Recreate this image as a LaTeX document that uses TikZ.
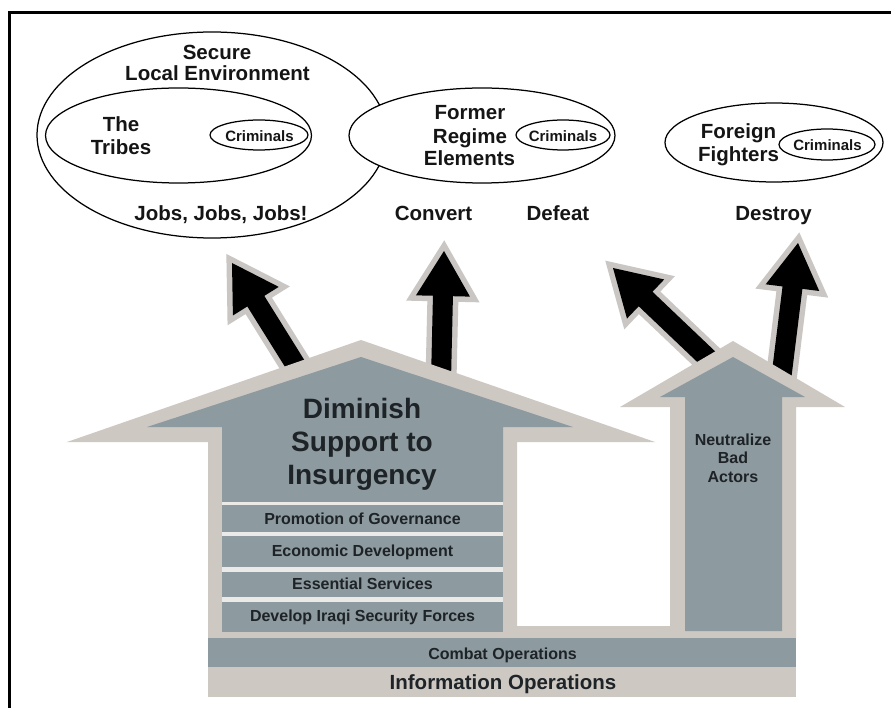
\documentclass[tikz,border=0pt]{standalone}
\usepackage{fontspec}
\setmainfont{Liberation Sans}
\usetikzlibrary{calc,shapes.geometric}
\definecolor{rim}{HTML}{CEC8C3}
\definecolor{slate}{HTML}{8D9A9F}
\definecolor{arrim}{HTML}{C9C6C4}
\definecolor{ink}{HTML}{151515}
\definecolor{dark}{HTML}{1D2327}
\definecolor{sepcol}{HTML}{ECEAE9}
\newcommand\fatarrow[2]{%
  \path[fatarr] (#2)
    -- ($(#2)!45pt!(#1)!27pt!90:(#2)$)
    -- ($(#2)!45pt!(#1)!10pt!90:(#2)$)
    -- ($(#1)!10pt!90:(#2)$)
    -- ($(#1)!10pt!-90:(#2)$)
    -- ($(#2)!45pt!(#1)!10pt!-90:(#2)$)
    -- ($(#2)!45pt!(#1)!27pt!-90:(#2)$)
    -- cycle;}
\begin{document}
\begin{tikzpicture}[x=1pt,y=-1pt,
  ring/.style={draw=black, ellipse, line width=1.25pt, inner sep=0pt},
  lbl/.style={font=\bfseries\fontsize{20.5}{23}\selectfont, text=ink, anchor=base, inner sep=0pt},
  crimtxt/.style={font=\bfseries\fontsize{15}{17}\selectfont, text=ink, anchor=base, inner sep=0pt},
  bigtxt/.style={font=\bfseries\fontsize{28}{32}\selectfont, text=dark, anchor=base, inner sep=0pt},
  midtxt/.style={font=\bfseries\fontsize{16}{19}\selectfont, text=dark, anchor=base, inner sep=0pt},
  fatarr/.style={preaction={draw=arrim, line width=11pt, line join=miter}, fill=black}]
\useasboundingbox (0,0) rectangle (891,708);
\fill[white] (0,0) rectangle (891,708);
\draw[line width=2.2pt] (9.5,708) -- (9.5,12.5) -- (891,12.5);

% ellipses
\node[ring, minimum width=350pt, minimum height=206pt] (sle) at (212,135) {};
\node[ring, minimum width=266pt, minimum height=95pt] (tribes) at (178.5,135.5) {};
\node[ring, minimum width=98pt, minimum height=30pt] (crimA) at (259,135) {};
\node[ring, fill=white, minimum width=266pt, minimum height=95pt] (fre) at (482,135.5) {};
\node[ring, minimum width=94pt, minimum height=30pt] (crimB) at (563,135) {};
\node[ring, minimum width=218pt, minimum height=79pt] (ff) at (774,142.5) {};
\node[ring, minimum width=96pt, minimum height=31pt] (crimC) at (827,144.5) {};

% ellipse texts
\node[lbl] (t1) at (217,59.3) {Secure};
\node[lbl] (t2) at (217.5,81) {Local Environment};
\node[lbl] (t3) at (121,131.7) {The};
\node[lbl] (t4) at (121,155) {Tribes};
\node[crimtxt] (c1) at (259.5,141.5) {Criminals};
\node[lbl] (t5) at (470,120) {Former};
\node[lbl] (t6) at (470,143.3) {Regime};
\node[lbl] (t7) at (469.5,165.7) {Elements};
\node[crimtxt] (c2) at (563,141.5) {Criminals};
\node[lbl] (t8) at (738.5,138.3) {Foreign};
\node[lbl] (t9) at (738.5,161.7) {Fighters};
\node[crimtxt] (c3) at (827.5,150.5) {Criminals};
\node[lbl] (jobs) at (221,220.7) {Jobs, Jobs, Jobs!};
\node[lbl] (conv) at (433.5,220.7) {Convert};
\node[lbl] (defe) at (558,220.7) {Defeat};
\node[lbl] (dest) at (773.5,220.7) {Destroy};

% arrows
\coordinate (a1tail) at (300,372);
\coordinate (a1tip) at (232,263);
\coordinate (a2tail) at (441,380);
\coordinate (a2tip) at (444,251);
\coordinate (a3tail) at (716,366);
\coordinate (a3tip) at (613,268);
\coordinate (a4tail) at (780,388);
\coordinate (a4tip) at (798,243);
\fatarrow{a1tail}{a1tip}
\fatarrow{a2tail}{a2tip}
\fatarrow{a3tail}{a3tip}
\fatarrow{a4tail}{a4tip}

% grey backing
\fill[rim] (361,340) -- (655,442) -- (517,442) -- (517,638) -- (208,638) -- (208,442) -- (67,442) -- cycle;
\fill[rim] (733,341) -- (845,407) -- (796,407) -- (796,638) -- (670,638) -- (670,407) -- (620,407) -- cycle;
\fill[rim] (517,626) rectangle (670,638);

% blue interiors
\fill[slate] (361,357) -- (573,427) -- (503,427) -- (503,502) -- (222,502) -- (222,427) -- (147,427) -- cycle;
\fill[sepcol] (222,502) rectangle (503,602);
\fill[slate] (222,505) rectangle (503,532);
\fill[slate] (222,536) rectangle (503,566.5);
\fill[slate] (222,571.5) rectangle (503,596.5);
\fill[slate] (222,601.5) rectangle (503,632);
\fill[slate] (733,357) -- (805,397) -- (782,397) -- (782,631) -- (685,631) -- (685,397) -- (660,397) -- cycle;
\fill[slate] (208,638) rectangle (796,667);
\fill[rim] (208,667) rectangle (796,697);

% house texts
\node[bigtxt] (d1) at (362,418) {Diminish};
\node[bigtxt] (d2) at (362,451) {Support to};
\node[bigtxt] (d3) at (362,484) {Insurgency};
\node[midtxt] (n1) at (733,445) {Neutralize};
\node[midtxt] (n2) at (733,463.5) {Bad};
\node[midtxt] (n3) at (733,482) {Actors};
\node[midtxt] (p1) at (362.5,524.3) {Promotion of Governance};
\node[midtxt] (p2) at (362.5,556) {Economic Development};
\node[midtxt] (p3) at (362.5,589) {Essential Services};
\node[midtxt] (p4) at (362.5,621.5) {Develop Iraqi Security Forces};
\node[midtxt] (cmb) at (502.5,659) {Combat Operations};
\node[lbl, text=dark] (info) at (503,689) {Information Operations};
\end{tikzpicture}
\end{document}
